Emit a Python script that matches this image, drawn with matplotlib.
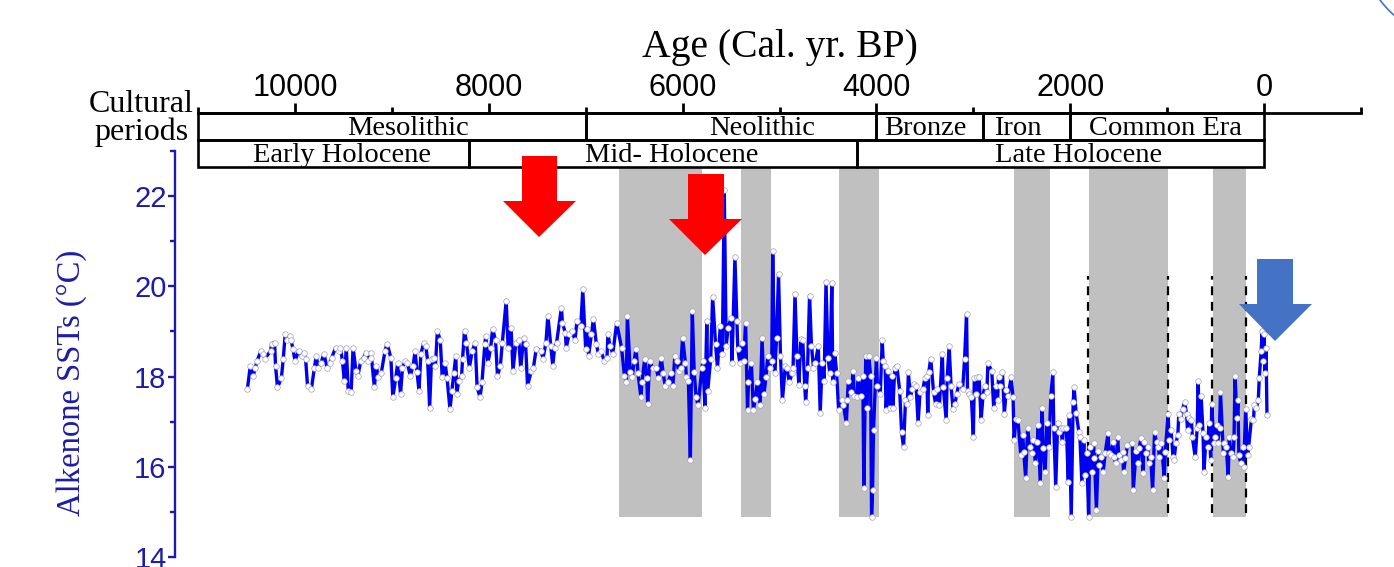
import matplotlib
matplotlib.use("Agg")
import matplotlib.pyplot as plt
import numpy as np
from matplotlib.patches import Rectangle, Polygon
from matplotlib.lines import Line2D
from matplotlib.ticker import MultipleLocator

# ---------------- data ----------------
age = [10490, 10460, 10430, 10410, 10390, 10350, 10330, 10310, 10250, 10240, 10210, 10200, 10180, 10140, 10120,
       10100, 10080, 10050, 10040, 10020, 10000, 9960, 9930, 9910, 9890, 9870, 9830, 9800, 9780, 9760, 9730,
       9700, 9670, 9640, 9620, 9580, 9550, 9530, 9510, 9490, 9470, 9450, 9420, 9400, 9370, 9350, 9320, 9290,
       9270, 9250, 9220, 9210, 9180, 9160, 9140, 9110, 9070, 9050,
       9010, 8990, 8960, 8940, 8910, 8890, 8860, 8840, 8810, 8780, 8760, 8740, 8720, 8700, 8670, 8650, 8630,
       8610, 8590, 8570, 8550, 8530, 8500, 8480, 8450, 8430, 8400, 8380, 8360, 8340, 8330, 8310, 8280, 8270,
       8250, 8230, 8200, 8170, 8140, 8120, 8090, 8070, 8040, 8030, 8010, 7980, 7960, 7930, 7910, 7880, 7860,
       7820, 7800, 7770, 7750, 7720, 7690, 7670, 7640, 7620, 7600, 7560, 7540, 7510,
       7460, 7440, 7410, 7390, 7360, 7340, 7320, 7300, 7250, 7240, 7210, 7200, 7170, 7140, 7110, 7090, 7050,
       7030, 7000, 6990, 6970, 6940, 6920, 6890, 6870, 6840, 6810, 6780, 6770, 6750, 6720, 6680, 6630, 6600,
       6580, 6570, 6540, 6520, 6500, 6480, 6460, 6430, 6420, 6390, 6370, 6360, 6340, 6310, 6270, 6250, 6220,
       6200, 6180, 6150, 6120, 6100, 6080, 6060, 6040, 6020, 6000, 5970, 5960, 5940,
       5920, 5900, 5880, 5860, 5840, 5800, 5790, 5770, 5750, 5740, 5710, 5690, 5660, 5640, 5610, 5590, 5570,
       5550, 5530, 5500, 5490, 5460, 5440, 5430, 5410, 5390, 5370, 5350, 5330, 5320, 5290, 5270, 5250, 5230,
       5200, 5180, 5160, 5140, 5120, 5100, 5080, 5070, 5050, 5030, 5010, 4990, 4970, 4940, 4920, 4900, 4870,
       4860, 4840, 4820, 4800, 4780, 4760, 4740, 4730, 4710, 4690, 4670, 4650, 4630, 4600, 4580, 4560, 4540,
       4520, 4500, 4480, 4460, 4450, 4430, 4410, 4390,
       4360, 4340, 4310, 4300, 4290, 4260, 4240, 4230, 4200, 4190, 4160, 4140, 4130, 4110, 4100, 4080, 4060,
       4050, 4040, 4030, 4000, 3990, 3960, 3940, 3930, 3910, 3900, 3880, 3860, 3840, 3830, 3810, 3790, 3760,
       3740, 3720, 3700, 3680, 3670, 3650, 3630, 3610, 3590, 3570, 3550, 3520, 3500, 3480, 3470, 3460, 3440,
       3410, 3390, 3370, 3350, 3320, 3310, 3280, 3270, 3250, 3230, 3210, 3190, 3170, 3150, 3110, 3090, 3070,
       3060, 3040, 3020, 3000, 2990, 2970, 2960, 2940, 2920, 2900, 2880, 2860, 2850,
       2810, 2790, 2770, 2750, 2740, 2720, 2700, 2680, 2660, 2640, 2610, 2590, 2580, 2560, 2540, 2510, 2490,
       2480, 2460, 2440, 2420, 2390, 2380, 2360, 2340, 2330, 2310, 2290, 2280, 2260, 2240, 2220, 2200, 2180,
       2170, 2150, 2130, 2120, 2100, 2080, 2070, 2040, 2020, 2010, 1990, 1970, 1960, 1940, 1910, 1900, 1880,
       1860, 1850, 1830, 1810, 1800, 1780, 1760, 1750, 1730, 1710, 1700, 1680, 1660, 1640, 1610, 1600, 1580,
       1560, 1550, 1530, 1510, 1500, 1480, 1460, 1450, 1430, 1410,
       1360, 1350, 1320, 1300, 1290, 1270, 1250, 1240, 1220, 1200, 1190, 1170, 1150, 1130, 1110, 1090, 1080,
       1060, 1030, 1020, 990, 980, 960, 940, 930, 910, 890, 880, 860, 840, 820, 800, 790, 770, 750, 740, 710,
       690, 680, 670, 650, 630, 620, 600, 580, 570, 550, 540, 520, 510, 490, 480, 460, 450, 420, 410, 390,
       370, 360, 340, 320, 310, 300, 280, 270, 260, 240, 220, 210, 190, 170, 160, 130, 110, 100, 80, 60, 50,
       30, 20, 10, 0, -10, -20, -30]

sst = [17.73, 18.24, 18.02, 18.18, 18.35, 18.57, 18.51, 18.40, 18.57, 18.73, 18.75, 18.24, 17.76, 17.96, 18.40,
       18.95, 18.80, 18.91, 18.80, 18.62, 18.35, 18.57, 18.46, 18.53, 18.40, 17.80, 17.73, 18.18, 18.46, 18.20, 18.31,
       18.51, 18.20, 18.31, 18.42, 18.64, 18.57, 18.64, 18.35, 17.91, 18.64, 17.69, 17.65, 18.64, 18.13, 18.02, 18.35, 18.42,
       18.53, 18.35, 18.53, 18.42, 17.76, 18.24, 17.98, 18.07, 18.57, 18.73,
       18.42, 17.54, 17.96, 18.29, 17.62, 18.20, 18.35, 18.29, 18.02, 18.24, 18.57, 18.09, 17.69, 18.51, 18.75, 18.68, 18.35,
       17.31, 18.40, 18.42, 18.24, 19.02, 18.80, 17.98, 18.29, 17.96, 17.27, 17.69, 18.07, 18.46, 17.62, 17.91, 18.02, 18.40,
       19.02, 18.75, 18.20, 18.57, 18.75, 17.76, 17.54, 17.87, 18.73, 18.91, 18.29, 18.64, 19.06, 18.80, 18.02, 18.24, 18.75,
       19.68, 18.64, 19.08, 18.13, 18.75, 18.80, 18.18, 18.86, 18.73, 17.80, 18.13, 18.18, 18.62,
       18.57, 18.40, 18.75, 19.35, 18.68, 18.24, 18.64, 18.75, 19.53, 19.19, 18.97, 18.64, 18.95, 19.02, 18.80, 19.24, 19.13,
       19.93, 18.62, 19.06, 18.46, 18.95, 19.28, 18.73, 18.51, 18.57, 18.35, 18.42, 18.95, 18.68, 18.51, 19.19, 18.64, 18.02,
       17.87, 19.35, 18.09, 17.98, 18.35, 18.62, 18.07, 17.54, 17.87, 18.40, 17.96, 17.40, 18.35, 18.20, 18.18, 17.96, 18.42,
       18.07, 17.80, 17.87, 18.07, 17.80, 18.46, 18.35, 18.13, 18.18, 18.86, 18.29, 17.98, 17.91,
       16.14, 19.46, 18.09, 17.54, 17.36, 18.20, 18.35, 17.31, 19.24, 17.69, 18.40, 19.77, 18.73, 18.20, 19.13, 18.51, 22.13,
       18.68, 19.08, 19.30, 18.31, 20.65, 19.24, 18.62, 18.31, 18.75, 18.35, 19.19, 17.25, 17.87, 18.31, 17.25, 17.51, 17.87,
       17.38, 18.86, 17.62, 17.98, 18.46, 18.20, 18.35, 20.78, 18.07, 18.86, 20.28, 18.46, 17.47, 18.24, 18.18, 17.87, 18.07,
       18.20, 19.83, 18.46, 17.82, 18.84, 18.80, 17.80, 17.43, 18.20, 19.79, 18.68, 18.20, 18.29, 18.68, 17.20, 18.31, 17.91,
       20.10, 18.42, 18.07, 20.08, 17.87, 18.53, 18.07, 17.25,
       17.47, 17.36, 16.96, 17.47, 17.91, 17.65, 18.13, 17.58, 17.54, 17.96, 17.58, 18.02, 15.52, 18.46, 17.31, 18.46, 18.02,
       14.88, 15.48, 16.81, 18.42, 17.80, 17.62, 18.80, 18.35, 18.24, 17.25, 18.13, 17.31, 18.02, 17.31, 18.20, 18.24, 17.69,
       16.76, 16.43, 17.47, 17.40, 18.09, 17.54, 17.73, 17.84, 17.80, 16.96, 17.65, 17.73, 17.96, 18.02, 17.14, 18.09, 18.40,
       17.65, 17.40, 17.73, 17.36, 18.51, 17.76, 17.03, 17.96, 18.68, 17.80, 17.29, 17.40, 17.62, 17.84, 17.73, 18.40, 19.39,
       17.69, 17.62, 17.54, 16.65, 17.96, 17.62, 17.98, 17.98, 17.03, 17.58, 17.80, 17.65, 18.29,
       18.13, 17.31, 17.80, 17.47, 17.98, 17.80, 18.11, 17.18, 17.71, 17.58, 17.98, 17.54, 16.59, 17.07, 17.03, 16.25, 16.70,
       16.32, 15.75, 16.87, 16.43, 16.30, 16.59, 16.08, 16.54, 16.92, 15.64, 17.31, 16.41, 15.88, 16.96, 16.43, 17.58, 18.09,
       16.87, 15.55, 16.98, 16.76, 16.85, 16.54, 16.87, 16.85, 15.66, 17.14, 14.88, 17.43, 17.76, 17.20, 16.76, 16.65, 15.64,
       16.59, 15.81, 16.30, 14.88, 16.43, 15.88, 16.52, 16.19, 15.04, 16.36, 16.03, 16.21, 15.88, 16.30, 16.74, 16.30, 16.25,
       16.54, 16.21, 16.08, 16.65, 16.25, 16.14, 16.32, 15.88, 16.19, 16.48,
       16.52, 15.48, 16.36, 16.08, 16.41, 16.63, 15.86, 16.54, 16.30, 16.43, 16.08, 16.21, 15.48, 16.76, 16.54, 16.43, 16.21,
       16.52, 15.75, 16.32, 17.18, 16.59, 16.81, 16.21, 16.14, 16.52, 16.70, 17.18, 17.07, 17.29, 17.43, 17.18, 16.81, 17.09,
       17.03, 16.65, 16.21, 16.87, 17.91, 16.92, 17.58, 16.74, 15.88, 16.65, 16.43, 16.96, 16.14, 17.40, 16.52, 16.65, 16.92,
       16.52, 16.85, 17.65, 16.30, 16.52, 16.43, 15.77, 16.65, 16.30, 16.21, 16.65, 18.02, 17.09, 17.47, 16.25, 16.08, 16.43,
       15.99, 17.29, 16.25, 16.43, 17.07, 17.03, 17.36, 17.31, 17.47, 17.96, 18.57, 19.02, 18.35, 18.95, 18.07, 18.64, 17.14]

# shaded intervals (cal. yr BP): start, end
band_start = [6660, 5400, 4390, 2580, 1810, 530]
band_end = [5800, 5090, 3970, 2210, 990, 190]
# dashed reference lines (cal. yr BP)
dashed_ages = [1820, 990, 540, 190]

# cultural periods (row 1) and climate stages (row 2): boundaries in cal. yr BP
culture_names = ["Mesolithic", "Neolithic", "Bronze", "Iron", "Common Era"]
culture_bounds = [11000, 7000, 4000, 2900, 2000, 0]
stage_names = ["Early Holocene", "Mid- Holocene", "Late Holocene"]
stage_bounds = [11000, 8200, 4200, 0]
# label centers (layout)
culture_label_x = [8830, 5180, 3500, 2545, 1014]
stage_label_x = [9510, 6115, 1914]

# ---------------- style ----------------
W, H = 1394, 567
SERIF = ["Liberation Serif", "DejaVu Serif"]
SANS = ["Liberation Sans", "DejaVu Sans"]
AXBLUE = "#1c1ca8"
LINEBLUE = "#0000f0"

def fx(px):
    return px / W

def fy(py):
    return 1 - py / H

fig = plt.figure(figsize=(W / 100, H / 100), dpi=100)
fig.patch.set_facecolor("white")

# main data axes
ax = fig.add_axes([fx(198), fy(557), fx(1361) - fx(198), fy(151) - fy(557)])
ax.set_xlim(11000, -1000)
ax.set_ylim(14, 23)
ax.patch.set_alpha(0)
for s in ["top", "right", "bottom"]:
    ax.spines[s].set_visible(False)
ax.spines["left"].set_position(("outward", 16.6))
ax.spines["left"].set_color(AXBLUE)
ax.spines["left"].set_linewidth(1.7)
ax.set_xticks([])
ax.yaxis.set_major_locator(MultipleLocator(2))
ax.yaxis.set_minor_locator(MultipleLocator(1))
ax.tick_params(axis="y", which="major", direction="out", length=5, width=1.7,
               color=AXBLUE, labelcolor=AXBLUE, labelsize=21, pad=1)
ax.tick_params(axis="y", which="minor", direction="out", length=3.5, width=1.7, color=AXBLUE)
for lab in ax.get_yticklabels():
    lab.set_family(SANS)
fig.text(fx(72), fy(383), "Alkenone SSTs (°C)", rotation=90, ha="center", va="center",
         color=AXBLUE, fontsize=23.5, family=SERIF)

# gray bands
for a0, a1 in zip(band_start, band_end):
    ax.fill_between([a0, a1], 14.88, 22.62, color="#c0c0c0", lw=0, zorder=1)

# dashed lines
for a in dashed_ages:
    ax.plot([a, a], [14.97, 20.23], ls=(0, (4, 3)), color="black", lw=1.6, zorder=3)

# SST series
ax.plot(age, sst, color=LINEBLUE, lw=2.4, zorder=4,
        marker="o", markersize=4.0, markerfacecolor="white",
        markeredgecolor="#a0a0c0", markeredgewidth=0.5)

# table / top axis
tax = fig.add_axes([fx(198), fy(167), fx(1361) - fx(198), fy(113) - fy(167)])
tax.set_xlim(11000, -1000)
tax.set_ylim(0, 2)
tax.patch.set_alpha(0)
for s in ["left", "right", "bottom"]:
    tax.spines[s].set_visible(False)
tax.spines["top"].set_linewidth(2.0)
tax.set_yticks([])
tax.xaxis.tick_top()
tax.set_xticks(range(10000, -1, -2000))
tax.set_xticks(range(11000, -1001, -2000), minor=True)
tax.tick_params(axis="x", which="major", direction="out", length=7, width=2, labelsize=22, pad=0)
tax.tick_params(axis="x", which="minor", direction="out", length=4.5, width=2)
for lab in tax.get_xticklabels():
    lab.set_family(SANS)
fig.text(fx(780), fy(47), "Age (Cal. yr. BP)", ha="center", va="center", fontsize=28.5, family=SERIF)

def draw_row(bounds, names, label_x, y0):
    for i in range(len(names)):
        tax.add_patch(Rectangle((bounds[i + 1], y0), bounds[i] - bounds[i + 1], 1,
                                fill=False, ec="black", lw=1.9, zorder=2, clip_on=False))
        tax.text(label_x[i], y0 + 0.42, names[i], ha="center", va="center",
                 fontsize=20.5, family=SERIF, zorder=3)

draw_row(culture_bounds, culture_names, culture_label_x, 1)
draw_row(stage_bounds, stage_names, stage_label_x, 0)

fig.text(fx(194), fy(104), "Cultural", ha="right", va="center", fontsize=23, family=SERIF)
fig.text(fx(189), fy(132), "periods", ha="right", va="center", fontsize=23, family=SERIF)

# arrows (figure layout)
def down_arrow(x0, x1, top, hx0, hx1, hbase, tip_x, tip_y, color):
    pts = [(x0, top), (x1, top), (x1, hbase), (hx1, hbase), (tip_x, tip_y),
           (hx0, hbase), (x0, hbase)]
    fig.add_artist(Polygon([(fx(x), fy(y)) for x, y in pts], closed=True,
                           transform=fig.transFigure, fc=color, ec="none", zorder=10))

down_arrow(522, 557, 156, 503, 576, 201, 539, 237, "#ff0000")
down_arrow(688, 724, 174, 669, 742, 219, 705, 255, "#ff0000")
down_arrow(1257, 1293, 259, 1239, 1312, 304, 1275, 341, "#4472c4")

# decorative arc in the top-right corner
th = np.linspace(np.deg2rad(120), np.deg2rad(240), 80)
cx, cy, r = 1460, -60, 100
arc_x = cx + r * np.cos(th)
arc_y = cy - r * np.sin(th)
fig.add_artist(Line2D(fx(arc_x), fy(arc_y), transform=fig.transFigure,
                      color="#4472c4", lw=1.2, zorder=10))

fig.savefig("out.png", dpi=100, facecolor="white")
